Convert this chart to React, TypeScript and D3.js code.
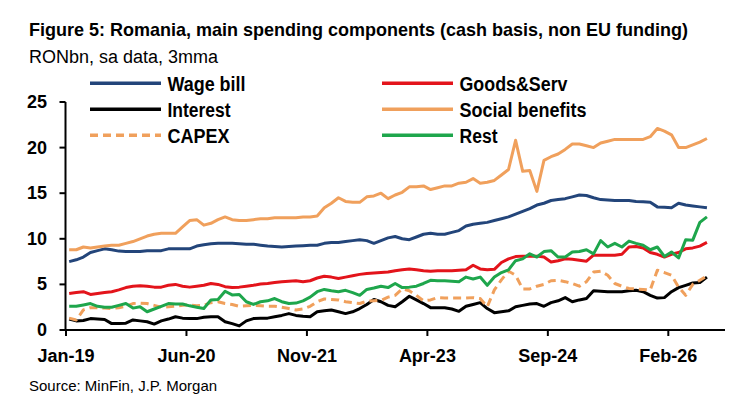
import * as d3 from "d3";

// x tick labels, 17 months apart starting Jan-19 (month index 0)
const tickMonths = [0, 17, 34, 51, 68, 85];
const tickLabels = ["Jan-19", "Jun-20", "Nov-21", "Apr-23", "Sep-24", "Feb-26"];
const yTicks = [0, 5, 10, 15, 20, 25];

// monthly values, Jan-19 .. Jul-26, RONbn
const wageBill = [
  7.5, 7.7, 8.0, 8.5, 8.7, 8.9, 8.8, 8.65, 8.6, 8.6, 8.6, 8.7, 8.7, 8.7, 8.9, 8.9,
  8.9, 8.9, 9.2, 9.35, 9.45, 9.5, 9.5, 9.5, 9.45, 9.4, 9.4, 9.3, 9.2, 9.15, 9.1, 9.15,
  9.2, 9.25, 9.3, 9.3, 9.5, 9.6, 9.6, 9.7, 9.8, 9.9, 9.8, 9.5, 9.8, 10.1, 10.25, 10.0,
  9.9, 10.2, 10.5, 10.6, 10.5, 10.5, 10.7, 10.9, 11.4, 11.6, 11.7, 11.8, 12.0, 12.2, 12.4, 12.7,
  13.0, 13.3, 13.7, 13.9, 14.2, 14.3, 14.4, 14.6, 14.8, 14.75, 14.5, 14.3, 14.25, 14.2, 14.2, 14.2,
  14.1, 14.05, 14.0, 13.5, 13.45, 13.4, 13.9, 13.7, 13.6, 13.5, 13.4,
];
const goodsServ = [
  4.0, 4.1, 4.2, 3.9, 4.0, 4.1, 4.2, 4.4, 4.65, 4.8, 4.85, 4.8, 4.7, 4.7, 4.9, 5.0,
  4.8, 4.7, 4.8, 4.9, 5.1, 5.0, 4.75, 4.65, 4.7, 4.8, 4.9, 5.05, 5.1, 5.2, 5.3, 5.35,
  5.4, 5.3, 5.4, 5.7, 5.9, 5.8, 5.65, 5.8, 5.95, 6.1, 6.2, 6.25, 6.3, 6.35, 6.5, 6.6,
  6.7, 6.6, 6.5, 6.45, 6.5, 6.5, 6.5, 6.55, 6.6, 7.1, 6.7, 6.6, 6.65, 7.4, 7.8, 8.05,
  8.1, 8.1, 8.1, 8.0, 7.45, 7.6, 7.8, 7.75, 7.65, 7.55, 8.2, 8.2, 8.2, 8.2, 8.3, 9.1,
  9.15, 9.0, 8.5, 8.3, 8.0, 8.3, 8.5, 8.9, 9.0, 9.2, 9.6,
];
const interest = [
  1.2, 1.0, 1.05, 1.25, 1.2, 1.15, 0.7, 0.7, 0.75, 1.1, 1.0, 0.9, 0.65, 1.0, 1.2, 1.45,
  1.3, 1.25, 1.25, 1.4, 1.45, 1.45, 0.9, 0.7, 0.45, 1.0, 1.25, 1.3, 1.3, 1.45, 1.6, 1.8,
  1.6, 1.5, 1.45, 2.0, 2.1, 2.2, 2.0, 1.8, 2.0, 2.35, 2.8, 3.35, 3.1, 2.7, 2.55, 3.1,
  3.7, 3.3, 2.9, 2.45, 2.45, 2.45, 2.3, 2.05, 2.6, 2.8, 3.0, 2.35, 1.9, 2.0, 2.1, 2.55,
  2.7, 2.85, 2.9, 2.6, 3.0, 3.2, 3.55, 3.1, 3.3, 3.45, 4.3, 4.25, 4.2, 4.2, 4.2, 4.3,
  4.35, 4.2, 3.8, 3.5, 3.55, 4.2, 4.65, 4.9, 5.15, 5.2, 5.8,
];
const socialBenefits = [
  8.8, 8.8, 9.1, 9.0, 9.1, 9.2, 9.3, 9.3, 9.5, 9.7, 10.0, 10.3, 10.5, 10.6, 10.6, 10.6,
  11.3, 12.0, 12.1, 11.5, 11.7, 12.1, 12.4, 12.1, 12.0, 12.0, 12.1, 12.2, 12.2, 12.3, 12.3, 12.3,
  12.3, 12.4, 12.4, 12.5, 13.4, 13.9, 14.5, 14.1, 14.0, 14.0, 14.6, 14.7, 15.0, 14.4, 14.8, 15.1,
  15.7, 15.7, 15.8, 15.4, 15.6, 15.8, 15.8, 16.1, 16.2, 16.6, 16.1, 16.2, 16.4, 17.0, 17.6, 20.8,
  17.4, 17.5, 15.2, 18.6, 19.0, 19.3, 19.8, 20.4, 20.4, 20.2, 20.0, 20.5, 20.7, 20.9, 20.9, 20.9,
  20.9, 20.9, 21.2, 22.1, 21.8, 21.4, 20.0, 20.0, 20.3, 20.6, 21.0,
];
const capex = [
  1.3, 1.1, 2.2, 2.45, 2.45, 2.4, 2.35, 2.45, 2.6, 2.9, 2.95, 2.9, 2.7, 2.5, 2.55, 2.6,
  2.7, 2.75, 2.65, 2.7, 3.0, 3.1, 2.9, 2.8, 2.6, 2.65, 2.7, 2.65, 2.6, 2.6, 2.5, 2.35,
  2.2, 2.3, 2.6, 3.1, 3.4, 3.35, 3.3, 3.1, 3.0, 2.9, 3.15, 3.2, 3.25, 3.6, 3.8, 4.5,
  4.3, 3.8, 3.2, 3.3, 3.55, 3.5, 3.5, 3.5, 3.5, 3.55, 3.45, 2.55, 4.4, 5.5, 6.45, 6.0,
  4.5, 4.5, 4.8, 5.0, 5.4, 5.45, 5.3, 5.1, 4.8, 5.3, 6.35, 6.45, 6.0, 5.1, 4.8, 4.55,
  4.5, 4.45, 4.4, 6.55, 6.3, 6.0, 4.7, 3.8, 5.0, 5.45, 5.95,
];
const rest = [
  2.6, 2.6, 2.75, 2.9, 2.6, 2.5, 2.5, 2.7, 2.9, 2.4, 2.55, 2.0, 2.3, 2.6, 2.9, 2.85,
  2.85, 2.65, 2.5, 2.35, 3.3, 3.35, 4.25, 3.85, 3.9, 3.1, 2.8, 3.1, 3.2, 3.45, 3.1, 2.9,
  2.95, 3.2, 3.6, 4.2, 4.45, 4.3, 4.2, 4.35, 4.1, 3.8, 4.45, 4.6, 4.8, 4.65, 5.1, 4.65,
  4.7, 4.8, 5.1, 5.45, 5.4, 5.4, 5.35, 5.3, 5.8, 5.6, 5.8, 4.9, 5.8, 6.3, 6.6, 7.6,
  7.8, 8.35, 8.0, 8.6, 8.7, 8.0, 8.0, 8.55, 8.6, 8.8, 8.35, 9.8, 9.1, 9.5, 9.1, 9.75,
  9.5, 9.3, 8.8, 9.1, 8.07, 8.55, 7.9, 9.9, 9.85, 11.8, 12.4,
];

const series = [
  { name: "Wage bill", values: wageBill, color: "#23457a", dash: "", labelWidth: 78 },
  { name: "Goods&Serv", values: goodsServ, color: "#e3141b", dash: "", labelWidth: 108 },
  { name: "Interest", values: interest, color: "#000000", dash: "", labelWidth: 63 },
  { name: "Social benefits", values: socialBenefits, color: "#f0a05c", dash: "", labelWidth: 127 },
  { name: "CAPEX", values: capex, color: "#f0a05c", dash: "8,5", labelWidth: 62 },
  { name: "Rest", values: rest, color: "#1ea64c", dash: "", labelWidth: 38 },
];

const font = "'Liberation Sans Narrow', 'Arial Narrow', 'Liberation Sans', Arial, sans-serif";

export default function App() {
  const width = 750;
  const height = 420;
  const left = 65.5;
  const right = 725;
  const bottom = 330;
  const top = 102;

  const x = d3.scaleLinear().domain([0, 93]).range([66, right]);
  const y = d3.scaleLinear().domain([0, 25]).range([bottom, top]);

  const line = d3
    .line<number>()
    .x((_, i) => x(i + 0.45))
    .y((d) => y(d));

  return (
    <div style={{ position: "absolute", left: 0, top: 0 }}>
      <svg width={width} height={height} style={{ display: "block", background: "#fff" }}>
        <text x={29} y={36} fontFamily={font} fontWeight="bold" fontSize={19} fill="#000"
          textLength={659} lengthAdjust="spacingAndGlyphs">
          Figure 5: Romania, main spending components (cash basis, non EU funding)
        </text>
        <text x={29} y={63} fontFamily={font} fontSize={18} fill="#000"
          textLength={189} lengthAdjust="spacingAndGlyphs">
          RONbn, sa data, 3mma
        </text>

        {/* legend */}
        {series.map((s, i) => {
          const col = i % 2;
          const row = Math.floor(i / 2);
          const lx = col === 0 ? 90 : 382;
          const ly = 83.3 + row * 26;
          return (
            <g key={s.name}>
              <line x1={lx} x2={lx + 71} y1={ly} y2={ly} stroke={s.color}
                strokeWidth={3.5} strokeDasharray={s.dash} />
              <text x={lx + 77.5} y={ly + 7.5} fontFamily={font} fontWeight="bold"
                fontSize={20} fill="#000" textLength={s.labelWidth}
                lengthAdjust="spacingAndGlyphs">
                {s.name}
              </text>
            </g>
          );
        })}

        {/* axes */}
        <line x1={left} x2={left} y1={top} y2={bottom} stroke="#000" strokeWidth={2} />
        {yTicks.map((t) => (
          <g key={t}>
            <line x1={left - 6} x2={left} y1={y(t)} y2={y(t)} stroke="#000" strokeWidth={2} />
            <text x={47} y={y(t) + 6} textAnchor="end" fontFamily={font}
              fontWeight="bold" fontSize={18} fill="#000">
              {t}
            </text>
          </g>
        ))}
        <line x1={left} x2={right} y1={bottom} y2={bottom} stroke="#000" strokeWidth={2} />
        {tickMonths.map((m, i) => (
          <g key={m}>
            <line x1={x(m)} x2={x(m)} y1={bottom} y2={bottom + 6} stroke="#000" strokeWidth={2} />
            <text x={x(m)} y={362} textAnchor="middle" fontFamily={font}
              fontWeight="bold" fontSize={18} fill="#000">
              {tickLabels[i]}
            </text>
          </g>
        ))}

        {/* series */}
        {series.map((s) => (
          <path key={s.name} d={line(s.values) ?? ""} fill="none" stroke={s.color}
            strokeWidth={3} strokeDasharray={s.dash} strokeLinejoin="round" />
        ))}

        <text x={29} y={391} fontFamily={font} fontSize={15} fill="#000">
          Source: MinFin, J.P. Morgan
        </text>
      </svg>
    </div>
  );
}
